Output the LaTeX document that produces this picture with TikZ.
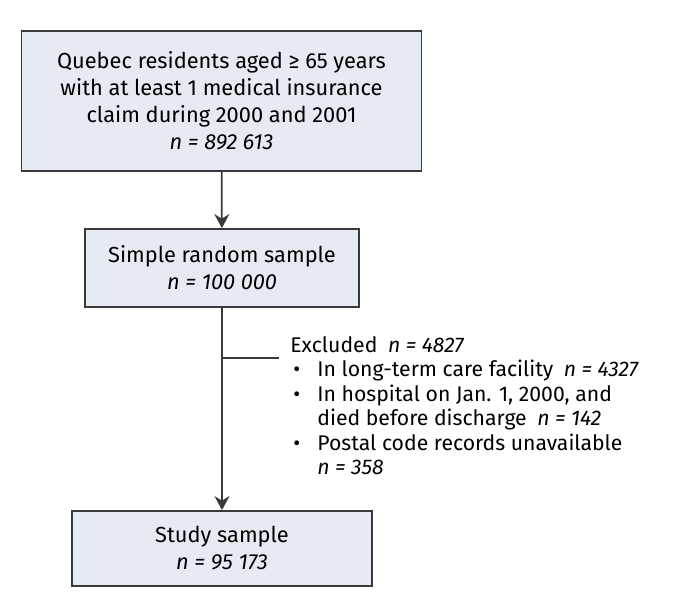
\documentclass[tikz,border=0pt]{standalone}
\usepackage{fontspec}
\setmainfont{Fira Sans}
\usepackage{xcolor}
\usetikzlibrary{arrows.meta,positioning}
\definecolor{boxfill}{HTML}{E6EAF3}
\definecolor{boxline}{HTML}{3A3A3A}

\begin{document}
\begin{tikzpicture}[x=0.5pt,y=-0.5pt,>={Stealth[length=7pt,width=7.5pt]},
  flowbox/.style={draw=boxline,fill=boxfill,line width=0.9pt,align=center,inner sep=0pt,
    font=\fontsize{10.9}{13.5}\selectfont},
  flowline/.style={draw=boxline,line width=0.9pt}]
  \useasboundingbox (0,0) rectangle (677,605);
  \node[flowbox,minimum width=200pt,minimum height=70pt] (pop) at (221.5,101)
    {Quebec residents aged ≥ 65 years\\with at least 1 medical insurance\\claim during 2000 and 2001\\\textit{n = 892 613}};
  \node[flowbox,minimum width=137pt,minimum height=39pt] (srs) at (222,268)
    {Simple random sample\\\textit{n = 100 000}};
  \node[flowbox,minimum width=150pt,minimum height=37.5pt] (study) at (222,548.5)
    {Study sample\\\textit{n = 95 173}};
  \node[anchor=base west,inner sep=0pt,font=\fontsize{10.6}{12.3}\selectfont] (excl) at (290,352)
    {\begin{tabular}[t]{@{}p{13.5pt}@{}l@{}}
      \multicolumn{2}{@{}l@{}}{Excluded\enspace\textit{n = 4827}}\\
      \hspace{1.5pt}\textbullet & In long-term care facility\enspace\textit{n = 4327}\\
      \hspace{1.5pt}\textbullet & In hospital on Jan. 1, 2000, and\\
       & died before discharge\enspace\textit{n = 142}\\
      \hspace{1.5pt}\textbullet & Postal code records unavailable\\
       & \textit{n = 358}
    \end{tabular}};
  \coordinate (split) at (222,358);
  \coordinate (stub) at (279,358);
  \draw[flowline,->] (pop) -- (srs);
  \draw[flowline,->] (srs) -- (study);
  \draw[flowline] (split) -- (stub);
\end{tikzpicture}
\end{document}
